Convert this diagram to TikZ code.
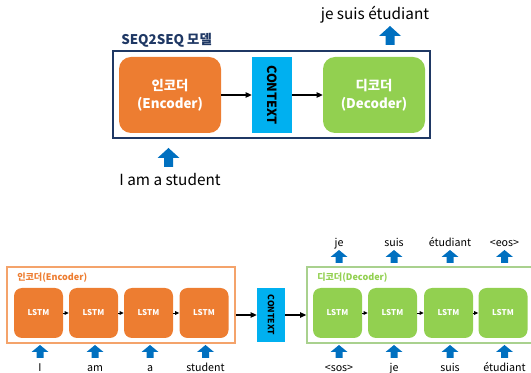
\documentclass[tikz,border=0pt]{standalone}
\usepackage{fontspec}
\setmainfont{Noto Sans CJK KR}
\usetikzlibrary{fit,arrows.meta}
\definecolor{orng}{HTML}{ED7D31}
\definecolor{orngline}{HTML}{F4A36B}
\definecolor{grn}{HTML}{92D050}
\definecolor{grnline}{HTML}{A9D18E}
\definecolor{cyanbox}{HTML}{00B0F0}
\definecolor{arrblue}{HTML}{0070C0}
\definecolor{navy}{HTML}{1F3864}
\tikzset{
  outerbox/.style={draw=navy, line width=1.5pt, inner sep=0pt},
  bigblk/.style={rounded corners=9pt, text=white, align=center, inner sep=0pt,
    font=\bfseries\fontsize{10}{13.5}\selectfont,
    minimum width=102*0.75pt, minimum height=76*0.75pt},
  ctxbig/.style={fill=cyanbox, rotate=-90, inner sep=0pt,
    font=\bfseries\fontsize{9.5}{11}\selectfont,
    minimum width=76*0.75pt, minimum height=40*0.75pt},
  ctxsmall/.style={fill=cyanbox, rotate=-90, inner sep=0pt,
    font=\bfseries\fontsize{6.4}{8}\selectfont,
    minimum width=54*0.75pt, minimum height=28*0.75pt},
  lstm/.style={rounded corners=6pt, text=white, inner sep=0pt,
    font=\bfseries\fontsize{6}{7}\selectfont,
    minimum width=49*0.75pt, minimum height=50*0.75pt},
  conn/.style={-{Triangle[length=4.5pt,width=4pt]}, line width=0.9pt, black},
  connsm/.style={-{Triangle[length=3pt,width=2.6pt]}, line width=0.7pt, black},
  bigtxt/.style={inner sep=0pt, font=\fontsize{11.5}{13}\selectfont},
  smtxt/.style={inner sep=0pt, anchor=base, font=\fontsize{8}{9}\selectfont},
  pics/bigup/.style={code={
    \fill[arrblue] (-4.5,0) -- (-4.5,-9) -- (-11,-9) -- (0,-19) -- (11,-9) -- (4.5,-9) -- (4.5,0) -- cycle;}},
  pics/smup/.style={code={
    \fill[arrblue] (-3.5,0) -- (-3.5,-6) -- (-8.5,-6) -- (0,-13) -- (8.5,-6) -- (3.5,-6) -- (3.5,0) -- cycle;}},
}
\begin{document}
\begin{tikzpicture}[x=0.75pt,y=-0.75pt]
\useasboundingbox (0,0) rectangle (531,373);
\clip (0,0) rectangle (531,373);
% ---------- top ----------
\node[outerbox, fit={(113,51)(430,138)}] (frame) {};
\node[anchor=west, inner sep=0pt, text=navy, font=\bfseries\fontsize{10}{12}\selectfont] (title) at (121,40) {SEQ2SEQ 모델};
\node[bigblk, fill=orng] (enc) at (170,95) {인코더\\(Encoder)};
\node[ctxbig] (ctx) at (272,95) {CONTEXT};
\node[bigblk, fill=grn] (dec) at (374,95) {디코더\\(Decoder)};
\draw[conn] (enc) -- (ctx);
\draw[conn] (ctx) -- (dec);
\pic (inarr) at (168.5,167) {bigup};
\node[bigtxt] (inp) at (170,180) {I am a student};
\pic (outarr) at (390,45) {bigup};
\node[bigtxt] (outp) at (375,15) {je suis étudiant};
% ---------- bottom ----------
\node[draw=orngline, line width=1.2pt, inner sep=0pt, fit={(7,267)(235,343)}] (encbox) {};
\node[anchor=west, inner sep=0pt, text=orng, font=\bfseries\fontsize{6.8}{8}\selectfont] (enclab) at (17,278) {인코더(Encoder)};
\node[draw=grnline, line width=1.2pt, inner sep=0pt, fit={(307,267)(545,343)}] (decbox) {};
\node[anchor=west, inner sep=0pt, text=grn, font=\bfseries\fontsize{6.8}{8}\selectfont] (declab) at (317,278) {디코더(Decoder)};
\foreach \i/\x/\w in {1/38.5/I, 2/93.5/am, 3/148.5/a, 4/204/student}{
  \node[lstm, fill=orng] (e\i) at (\x,313) {LSTM};
  \pic (ea\i) at (\x+1.5,358) {smup};
  \node[smtxt] (ew\i) at (\x+1.5,371) {\w};
}
\foreach \i/\x/\w/\o in {1/337.5/<sos>/je, 2/392.5/je/suis, 3/448.5/suis/étudiant, 4/503/étudiant/<eos>}{
  \node[lstm, fill=grn] (d\i) at (\x,313) {LSTM};
  \pic (da\i) at (\x+1.5,358) {smup};
  \node[smtxt] (dw\i) at (\x+1.5,371) {\w};
  \pic (do\i) at (\x+1.5,263) {smup};
  \node[smtxt] (dout\i) at (\x+1.5,247) {\o};
}
\foreach \a/\b in {1/2,2/3,3/4}{
  \draw[connsm] (e\a) -- (e\b);
  \draw[connsm] (d\a) -- (d\b);
}
\node[ctxsmall] (ctx2) at (271,315) {CONTEXT};
\draw[conn] (encbox.east |- ctx2) -- (ctx2);
\draw[conn] (ctx2) -- (decbox.west |- ctx2);
\end{tikzpicture}
\end{document}
